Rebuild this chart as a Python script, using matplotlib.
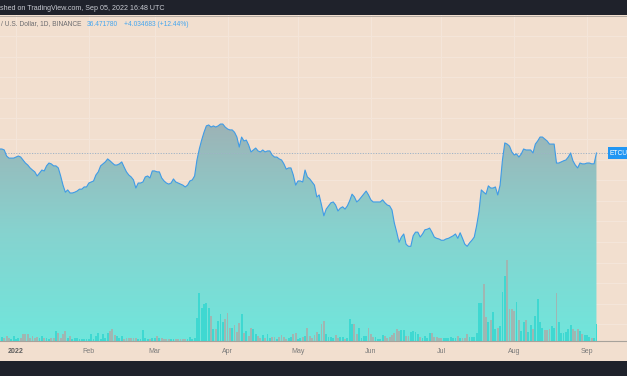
import numpy as np
import pandas as pd
import matplotlib
matplotlib.use("Agg")
import matplotlib.pyplot as plt
import matplotlib.dates as mdates
from matplotlib.patches import Rectangle
from matplotlib.ticker import NullLocator
from matplotlib.transforms import blended_transform_factory
from matplotlib.colors import LinearSegmentedColormap

plt.rcParams['font.family'] = ['Liberation Sans', 'DejaVu Sans']

# ---------------- data (daily ETC/USD close, Binance) ----------------
start_date = "2021-12-25"
price = [
    38.1, 38.1, 37.7, 35.3, 34.5, 34.5, 34.5,
    34.9, 35.3, 34.9, 33.8, 32.7, 32.0, 31.0, 30.3, 29.7, 28.4,
    29.3, 30.3, 30.0, 31.7, 32.7, 32.4, 31.7, 31.7, 31.0, 28.4,
    25.7, 23.8, 24.4, 23.6, 23.6, 23.8, 24.1, 24.6, 24.6, 25.2,
    25.2, 26.3, 26.6, 26.9, 28.7, 29.7, 31.7, 32.4, 33.1, 34.2,
    33.5, 32.7, 32.0, 32.0, 32.4, 33.1, 31.3, 29.7, 28.7, 28.1,
    27.2, 24.9, 26.3, 26.3, 26.6, 28.1, 28.4, 27.8, 30.0, 30.0,
    29.7, 29.7, 27.8, 26.9, 26.3, 26.0, 26.3, 27.5, 26.6, 26.3,
    26.0, 25.7, 25.2, 25.7, 26.9, 27.2, 28.4, 33.8, 38.1, 42.0,
    45.7, 49.0, 49.5, 48.4, 49.0, 48.4, 49.0, 50.0, 50.0, 48.4,
    47.4, 46.9, 46.9, 45.7, 43.4, 38.9, 43.4, 41.6, 42.0, 39.8,
    36.9, 37.7, 38.5, 37.3, 36.9, 37.7, 36.9, 37.3, 37.3, 35.7,
    34.9, 34.9, 34.2, 33.8, 32.4, 30.6, 31.0, 31.0, 28.7, 25.7,
    26.9, 26.9, 26.6, 30.3, 28.1, 27.5, 26.6, 25.7, 22.6, 23.1,
    20.7, 18.4, 19.8, 20.5, 21.2, 21.4, 20.7, 19.4, 20.0, 20.3,
    19.8, 20.5, 21.7, 23.3, 22.6, 21.4, 21.9, 22.6, 23.3, 24.1,
    23.1, 21.9, 21.4, 21.4, 21.4, 21.4, 21.9, 21.2, 20.7, 20.5,
    19.6, 17.0, 15.4, 13.8, 14.6, 15.1, 13.5, 13.2, 13.2, 14.8,
    15.4, 15.4, 14.6, 15.1, 15.8, 15.9, 16.1, 15.4, 14.6, 14.4,
    14.3, 14.1, 14.1, 14.3, 14.4, 14.6, 14.8, 15.1, 14.4, 15.3,
    14.4, 13.5, 13.2, 13.7, 14.1, 14.6, 16.5, 19.2, 24.4, 23.8,
    23.3, 25.5, 24.9, 24.9, 25.2, 23.1, 25.7, 33.8, 40.7, 40.2,
    39.3, 36.9, 35.7, 36.1, 34.9, 36.1, 38.1, 37.7, 37.7, 37.7,
    36.5, 40.2, 41.6, 43.4, 43.4, 42.5, 41.6, 40.2, 40.2, 40.2,
    32.7, 32.7, 33.1, 33.5, 33.8, 34.9, 36.5, 33.5, 32.0, 31.0,
    32.7, 32.4, 32.4, 32.7, 32.7, 32.4, 32.437097, 36.471780,
]
# daily volume (relative units)
volume = [
    3, 4, 3, 5, 3, 2, 5,
    2, 3, 3, 7, 7, 7, 3, 5, 3, 4,
    3, 5, 3, 3, 2, 3, 3, 10, 8, 3,
    7, 10, 3, 5, 2, 3, 3, 2, 2, 2,
    2, 2, 7, 2, 5, 8, 2, 7, 3, 8,
    10, 12, 6, 5, 3, 5, 2, 3, 3, 3,
    3, 3, 2, 2, 11, 3, 2, 2, 3, 3,
    5, 3, 3, 2, 2, 2, 2, 2, 2, 2,
    2, 2, 2, 2, 4, 2, 3, 23, 48, 33,
    37, 38, 33, 25, 12, 12, 20, 27, 19, 22,
    28, 13, 13, 16, 9, 18, 27, 8, 10, 5,
    13, 12, 7, 5, 3, 6, 3, 7, 3, 4,
    4, 2, 4, 6, 4, 2, 3, 4, 7, 8,
    2, 3, 4, 5, 13, 5, 3, 6, 9, 7,
    17, 20, 7, 4, 4, 3, 6, 3, 4, 4,
    2, 3, 22, 17, 17, 7, 13, 3, 5, 5,
    13, 7, 4, 4, 2, 2, 6, 5, 3, 4,
    6, 8, 12, 10, 11, 11, 5, 5, 9, 10,
    9, 7, 4, 3, 5, 3, 8, 8, 4, 4,
    3, 3, 3, 3, 3, 4, 3, 3, 5, 3,
    3, 3, 7, 4, 4, 4, 8, 38, 38, 57,
    24, 19, 21, 29, 12, 13, 15, 49, 65, 81,
    32, 32, 30, 39, 21, 10, 19, 21, 9, 16,
    12, 25, 42, 19, 13, 11, 11, 12, 15, 13,
    48, 19, 8, 8, 9, 12, 16, 12, 10, 12,
    10, 7, 6, 6, 4, 3, 3, 17,
]
month_ticks = ["2022-01-01", "2022-02-01", "2022-03-01", "2022-04-01", "2022-05-01",
               "2022-06-01", "2022-07-01", "2022-08-01", "2022-09-01"]
month_labels = ["2022", "Feb", "Mar", "Apr", "May", "Jun", "Jul", "Aug", "Sep"]
change_abs = "+4.034683"
change_pct = "(+12.44%)"
last_text = "36.471780"
header = "shed on TradingView.com, Sep 05, 2022 16:48 UTC"
legend_title = "/ U.S. Dollar, 1D, BINANCE"
symbol = "ETCU"

# ---------------- figure ----------------
W, H = 627, 376
BG = "#f2dfcf"
DARK = "#1f222b"
fig = plt.figure(figsize=(W / 100, H / 100), dpi=100)
fig.patch.set_facecolor(BG)

def fx(x):
    return x / W

def fy(y):
    return 1 - y / H

dates = pd.date_range(start_date, periods=len(price), freq="D")
xd = mdates.date2num(dates)
price_a = np.array(price)
vol_a = np.array(volume, dtype=float)

top_px, bot_px = 15, 341
ax = fig.add_axes([0, fy(bot_px), 1, (bot_px - top_px) / H])
ax.set_facecolor(BG)
ax.set_yscale("log")
jan1 = mdates.date2num(pd.Timestamp("2022-01-01"))
px_per_day = 2.35
XLIM = (jan1 - 16 / px_per_day, jan1 + (W - 16) / px_per_day)
YLIM = (4.706, 163.98)
ax.set_xlim(*XLIM)
ax.set_ylim(*YLIM)

# grid
grid_prices = [42.5 * 1.2516 ** k for k in range(-9, 6)]
ax.set_yticks(grid_prices)
ax.yaxis.set_minor_locator(NullLocator())
ax.tick_params(axis="y", which="both", length=0, labelleft=False)
ax.set_xticks(mdates.date2num(pd.to_datetime(month_ticks)))
ax.set_xticklabels(month_labels)
ax.xaxis.set_minor_locator(NullLocator())
ax.tick_params(axis="x", length=0, pad=5.0, labelsize=5.0, labelcolor="#7b7b7b")
for lab in ax.get_xticklabels():
    if lab.get_text() == "2022":
        lab.set_fontweight("bold")
        lab.set_color("#5e5e5e")
ax.grid(True, color="#f5e6da", lw=0.7)
ax.set_axisbelow(True)
for s in ["top", "left", "right"]:
    ax.spines[s].set_visible(False)
ax.spines["bottom"].set_color("#a7a29b")
ax.spines["bottom"].set_linewidth(0.8)

# gradient area
fill = ax.fill_between(xd, price_a, YLIM[0], facecolor="none", edgecolor="none")
clip_path = fill.get_paths()[0]
ax.set_xlim(*XLIM)
ax.set_ylim(*YLIM)
fig.canvas.draw()
top_frac = ax.transAxes.inverted().transform(
    ax.transData.transform((xd[0], price_a.max())))[1]
cmap = LinearSegmentedColormap.from_list("tv", ["#70e6dc", "#86d3cf", "#9db3b6"])
grad = np.linspace(0, 1, 256).reshape(-1, 1)
im = ax.imshow(grad, extent=(0, 1, 0, top_frac), transform=ax.transAxes,
               origin="lower", cmap=cmap, aspect="auto", zorder=1,
               interpolation="bilinear")
im.set_clip_path(clip_path, transform=ax.transData)
ax.set_xlim(*XLIM)
ax.set_ylim(*YLIM)

ax.plot(xd, price_a, color="#3f9be6", lw=0.8, zorder=3, solid_joinstyle="round")

# last price dotted line + label
ax.axhline(price_a[-1], xmin=0, xmax=608 / W, color="#9fb3c6", lw=0.7,
           ls=(0, (1.2, 1.5)), zorder=2.5)
trans = blended_transform_factory(ax.transAxes, ax.transData)
ax.text(610 / W, price_a[-1], symbol, transform=trans, ha="left", va="center",
        fontsize=4.8, color="white", zorder=5, clip_on=False,
        bbox=dict(boxstyle="square,pad=0.35", fc="#2196f3", ec="none"))

# volume
axv = ax.twinx()
axv.set_ylim(0, bot_px - top_px)
up = np.r_[True, price_a[1:] >= price_a[:-1]]
colors = np.where(up, "#3fd8d1", "#a0b6b2")
axv.bar(xd, vol_a, width=0.8, color=colors, linewidth=0, zorder=2)
axv.set_yticks([])
for s in axv.spines.values():
    s.set_visible(False)
axv.set_xlim(*XLIM)

# dark bars and header texts
fig.patches.append(Rectangle((0, fy(15)), 1, 15 / H, transform=fig.transFigure,
                             facecolor=DARK, edgecolor="none", zorder=10))
fig.patches.append(Rectangle((0, 0), 1, (H - 361) / H, transform=fig.transFigure,
                             facecolor=DARK, edgecolor="none", zorder=10))
fig.add_artist(plt.Line2D([0, 1], [fy(15.5), fy(15.5)], transform=fig.transFigure,
                          color="#b3aaa1", lw=0.7, zorder=11))
fig.text(fx(0), fy(8), header, fontsize=5.1, color="#c9ccd3", va="center",
         ha="left", zorder=12)
fig.text(fx(1), fy(24), legend_title, fontsize=4.8, color="#6d6d70", va="center",
         ha="left", zorder=12)
fig.text(fx(87), fy(24), last_text, fontsize=4.8, color="#45a6ef", va="center",
         ha="left", zorder=12)
fig.text(fx(124), fy(24), change_abs + " " + change_pct, fontsize=4.8,
         color="#45a6ef", va="center", ha="left", zorder=12)

fig.savefig("out.png", dpi=100, facecolor=BG)
